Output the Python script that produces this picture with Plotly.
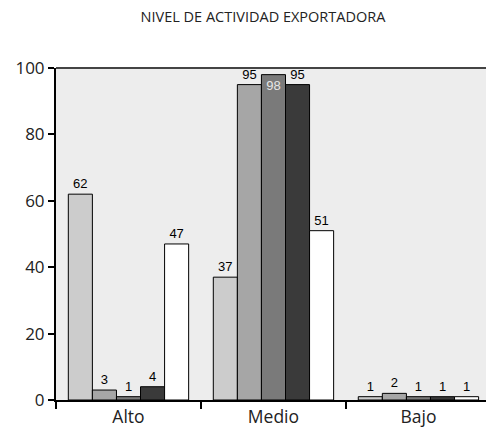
import plotly.graph_objects as go

categories = ["Alto", "Medio", "Bajo"]
serie1 = [62, 37, 1]
serie2 = [3, 95, 2]
serie3 = [1, 98, 1]
serie4 = [4, 95, 1]
serie5 = [47, 51, 1]
series = [serie1, serie2, serie3, serie4, serie5]
colors = ["#CCCCCC", "#A6A6A6", "#7A7A7A", "#3A3A3A", "#FFFFFF"]
title = "NIVEL DE ACTIVIDAD EXPORTADORA"

fig = go.Figure()
for i, vals in enumerate(series):
    pos = ["inside" if v >= 97 else "outside" for v in vals]
    fig.add_trace(go.Bar(
        x=categories, y=vals, text=[str(v) for v in vals],
        textposition=pos, insidetextanchor="end",
        textfont=dict(family="Liberation Sans, Arial", size=13, color="#000000"),
        insidetextfont=dict(family="Liberation Sans, Arial", size=13, color="#E6E6E6"),
        outsidetextfont=dict(family="Liberation Sans, Arial", size=13, color="#000000"),
        constraintext="none", cliponaxis=False,
        marker=dict(color=colors[i], line=dict(color="#000000", width=1)),
        showlegend=False, hoverinfo="skip",
    ))

fig.update_layout(
    width=486, height=432,
    margin=dict(l=56, r=0, t=68, b=32),
    paper_bgcolor="#FFFFFF", plot_bgcolor="#EDEDED",
    barmode="group", bargap=0.17, bargroupgap=0,
    font=dict(family="Open Sans", color="#222222"),
    title=dict(text=title, x=263/486, xref="container", xanchor="center",
               y=1 - 17/432, yref="container", yanchor="middle",
               font=dict(family="Open Sans", size=14.5, color="#222222")),
    xaxis=dict(type="category", range=[-0.5, 2.466], tickson="boundaries",
               ticks="outside", ticklen=7, tickwidth=1.5, tickcolor="#000000",
               showline=True, linecolor="#000000", linewidth=2,
               showgrid=False, zeroline=False,
               tickfont=dict(family="Open Sans", size=17.5, color="#222222")),
    yaxis=dict(range=[0, 100], tickvals=[0, 20, 40, 60, 80, 100],
               ticks="outside", ticklen=6, tickwidth=1.5, tickcolor="#000000",
               showline=True, linecolor="#000000", linewidth=2,
               showgrid=False, zeroline=False,
               tickfont=dict(family="Open Sans", size=17, color="#222222")),
    shapes=[dict(type="line", xref="paper", yref="paper", x0=0, x1=1, y0=1, y1=1,
                 line=dict(color="#444444", width=2))],
)

fig.write_html("out.html", config={"displayModeBar": False},
               post_script="document.body.style.margin='0';document.body.style.overflow='hidden';")
